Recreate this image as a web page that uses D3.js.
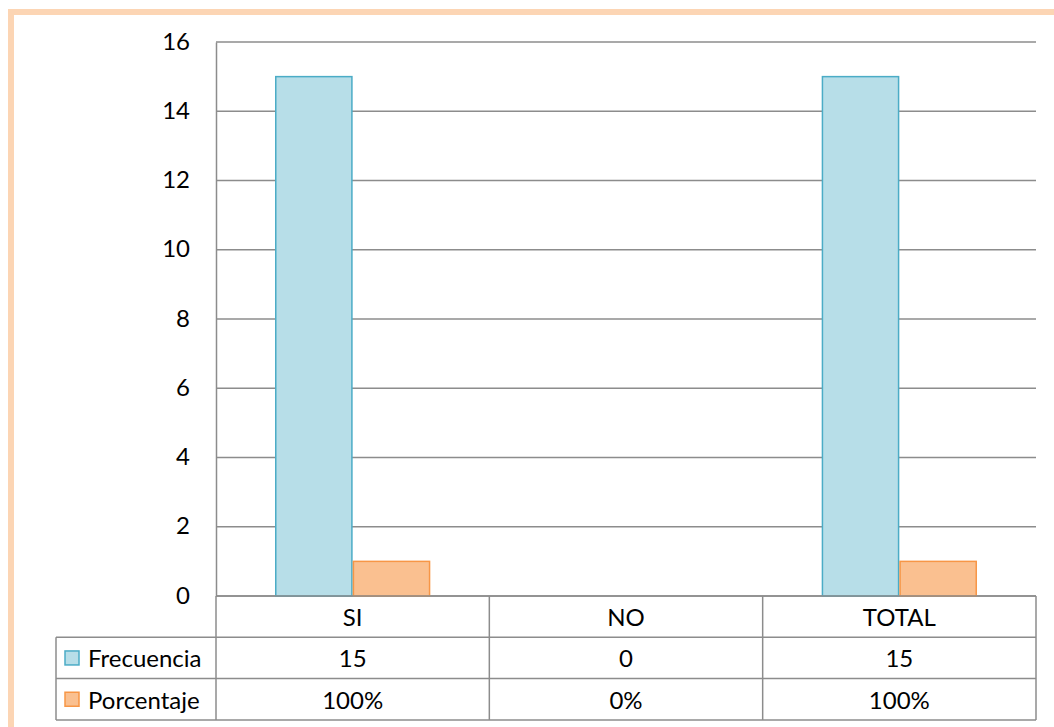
<!DOCTYPE html>
<html><head><meta charset="utf-8">
<script src="https://cdn.jsdelivr.net/npm/d3@7/dist/d3.min.js"></script>
<style>body{margin:0;background:#fff}svg{display:block}</style>
</head><body>
<svg id="c" width="1054" height="727"></svg>
<script>
const categories = ["SI", "NO", "TOTAL"];
const seriesNames = ["Frecuencia", "Porcentaje"];
const frecuencia = [15, 0, 15];
const porcentaje = [1, 0, 1];
const frecuenciaLabels = ["15", "0", "15"];
const porcentajeLabels = ["100%", "0%", "100%"];
const yTicks = [0, 2, 4, 6, 8, 10, 12, 14, 16];

const fills = ["#B7DEE8", "#FAC090"];
const strokes = ["#4BACC6", "#F79646"];
const font = "Lato, 'Open Sans', sans-serif";
const fs = 24;

const svg = d3.select("#c");
// outer border
svg.append("rect").attr("x", 11).attr("y", 12).attr("width", 1060).attr("height", 740)
  .attr("fill", "none").attr("stroke", "#FCD5B4").attr("stroke-width", 6);

const L = 216, R = 1036, T = 42, B = 596;
const x = d3.scaleBand().domain(categories).range([L, R]);
const y = d3.scaleLinear().domain([0, 16]).range([B, T]);
const inner = d3.scaleBand().domain(seriesNames).range([0, x.bandwidth()]).paddingInner(0).paddingOuter(0.76);

// gridlines
svg.append("g").selectAll("line").data(yTicks).join("line")
  .attr("x1", L).attr("x2", R).attr("y1", d => y(d)).attr("y2", d => y(d))
  .attr("stroke", "#8C8C8C").attr("stroke-width", 1.5);

// y axis
const yAxis = d3.axisLeft(y).tickValues(yTicks).tickSize(0).tickPadding(0);
const ga = svg.append("g").attr("transform", `translate(${L},0)`).call(yAxis);
ga.select(".domain").attr("stroke", "#8C8C8C").attr("stroke-width", 1.5);
ga.selectAll("text").attr("x", -26).attr("dy", "0.3em").attr("font-size", fs).attr("font-family", font).attr("fill", "#000").attr("text-anchor", "end");

// bars
const data = [frecuencia, porcentaje];
data.forEach((vals, si) => {
  svg.append("g").selectAll("rect").data(categories).join("rect")
    .attr("x", (c) => x(c) + inner(seriesNames[si]) + 0.75)
    .attr("width", inner.bandwidth() - 1.5)
    .attr("y", (c, i) => y(vals[i]))
    .attr("height", (c, i) => y(0) - y(vals[i]))
    .attr("fill", fills[si]).attr("stroke", strokes[si]).attr("stroke-width", 1.5)
    .style("display", (c, i) => vals[i] === 0 ? "none" : null);
});

// data table
const rowH = 41.3;
const tLeft = 56;
const rows = [B, B + rowH, B + 2 * rowH, B + 3 * rowH];
const tg = svg.append("g").attr("stroke", "#8C8C8C").attr("stroke-width", 1.5);
tg.append("line").attr("x1", L).attr("x2", R).attr("y1", rows[0]).attr("y2", rows[0]);
[1, 2, 3].forEach(k => tg.append("line").attr("x1", tLeft).attr("x2", R).attr("y1", rows[k]).attr("y2", rows[k]));
tg.append("line").attr("x1", tLeft).attr("x2", tLeft).attr("y1", rows[1]).attr("y2", rows[3]);
categories.concat(["_end"]).forEach((c, i) => {
  const xx = i < categories.length ? x(c) : R;
  tg.append("line").attr("x1", xx).attr("x2", xx).attr("y1", rows[0]).attr("y2", rows[3]);
});

const txt = (xx, yy, s, anchor) => svg.append("text").attr("x", xx).attr("y", yy)
  .attr("font-size", fs).attr("font-family", font).attr("fill", "#000")
  .attr("text-anchor", anchor || "middle").attr("dominant-baseline", "central").text(s);

categories.forEach((c, i) => {
  const cx = x(c) + x.bandwidth() / 2;
  txt(cx, rows[0] + rowH / 2, c);
  txt(cx, rows[1] + rowH / 2, frecuenciaLabels[i]);
  txt(cx, rows[2] + rowH / 2, porcentajeLabels[i]);
});
seriesNames.forEach((s, si) => {
  const cy = rows[1 + si] + rowH / 2;
  svg.append("rect").attr("x", 65).attr("y", cy - 7).attr("width", 14).attr("height", 14)
    .attr("fill", fills[si]).attr("stroke", strokes[si]).attr("stroke-width", 1.5);
  txt(88, cy, s, "start");
});
</script>
</body></html>
